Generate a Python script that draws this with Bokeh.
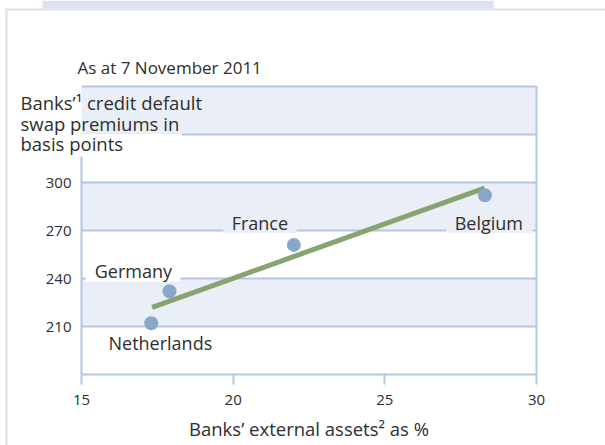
from bokeh.plotting import figure
from bokeh.models import FixedTicker, Label, BoxAnnotation
from bokeh.embed import file_html
from bokeh.resources import INLINE

# ---- data ----
countries = ["Belgium", "France", "Germany", "Netherlands"]
external_assets = [28.3, 22.0, 17.9, 17.3]       # % (x)
cds_premiums = [292, 261, 232, 212]              # basis points (y)
trend_x = [17.33, 28.29]                         # fitted line end points
trend_y = [222, 296.5]
x_ticks = [15, 20, 25, 30]
y_ticks = [180, 210, 240, 270, 300, 330, 360]
y_tick_labels = [210, 240, 270, 300]

# ---- style ----
FONT = "Open Sans"
TXT = "#2e2e2e"
GRID = "#b4c6e2"
BAND = "#eaeff7"
DOT = "#86a8cb"
GREEN = "#86a46f"
FRAME = "#d9e1ee"
STRIP = "#dce3ef"

# page geometry (pixels): chart area box inside a full-canvas frame
W, H = 605, 445
AX_L, AX_R, AX_T, AX_B = 81, 536, 86, 374
x0, x1 = x_ticks[0], x_ticks[-1]
y0, y1 = y_ticks[0], y_ticks[-1]
sx = (AX_R - AX_L) / (x1 - x0)
sy = (AX_B - AX_T) / (y1 - y0)
x_range = (x0 - AX_L / sx, x1 + (W - AX_R) / sx)
y_range = (y0 - (H - AX_B) / sy, y1 + AX_T / sy)

p = figure(width=W, height=H, x_range=x_range, y_range=y_range,
           output_backend="svg", toolbar_location=None, min_border=0)
p.outline_line_color = None
p.background_fill_color = "white"
p.border_fill_color = "white"

# alternating bands
p.quad(left=x0, right=x1, bottom=y_ticks[1::2], top=y_ticks[2::2],
       fill_color=BAND, line_color=None, level="image")

# grid (horizontal lines + right border)
p.ygrid.ticker = FixedTicker(ticks=y_ticks[1:])
p.ygrid.cross_bounds = (x0, x1)
p.ygrid.grid_line_color = GRID
p.ygrid.grid_line_width = 2
p.xgrid.ticker = FixedTicker(ticks=[x1])
p.xgrid.cross_bounds = (y0, y1)
p.xgrid.grid_line_color = GRID
p.xgrid.grid_line_width = 2

# x axis
xa = p.xaxis[0]
xa.fixed_location = y0
xa.bounds = (x0, x1)
xa.ticker = FixedTicker(ticks=x_ticks)
xa.axis_line_color = GRID
xa.axis_line_width = 2
xa.major_tick_line_color = GRID
xa.major_tick_line_width = 2
xa.major_tick_out = 10
xa.major_tick_in = 0
xa.minor_tick_line_color = None
xa.major_label_text_font = FONT
xa.major_label_text_font_size = "15px"
xa.major_label_text_color = TXT
xa.major_label_standoff = 10
xa.axis_label = "Banks’ external assets² as %"
xa.axis_label_text_font = FONT
xa.axis_label_text_font_size = "18.5px"
xa.axis_label_text_font_style = "normal"
xa.axis_label_text_color = TXT
xa.axis_label_standoff = 8

# y axis
ya = p.yaxis[0]
ya.fixed_location = x0
ya.ticker = FixedTicker(ticks=y_tick_labels)
ya.bounds = (y0, 316)
ya.axis_line_color = GRID
ya.axis_line_width = 2
ya.major_tick_out = 0
ya.major_tick_in = 0
ya.major_tick_line_color = None
ya.minor_tick_line_color = None
ya.major_label_text_font = FONT
ya.major_label_text_font_size = "15px"
ya.major_label_text_color = TXT
ya.major_label_standoff = 10

# boxes that interrupt gridlines behind labels
gap_boxes = [(x0, 18.3, 316.0, 330.7, "white"),       # "basis points"
             (19.68, 22.09, 268.4, 280.0, BAND),      # France
             (27.03, 29.87, 268.4, 280.0, BAND),      # Belgium
             (15.13, 18.26, 238.1, 250.6, "white")]   # Germany
for l, r, b, t, col in gap_boxes:
    p.add_layout(BoxAnnotation(left=l, right=r, bottom=b, top=t, fill_color=col,
                               fill_alpha=1, line_color=None, level="underlay"))

# trend line and points
p.line(trend_x, trend_y, line_width=5, line_color=GREEN)
p.scatter(external_assets, cds_premiums, size=14, fill_color=DOT, line_color=None)

# country labels
lab_pos = {"Belgium": (28.43, 275.0), "France": (20.88, 275.0),
           "Germany": (16.71, 245.0), "Netherlands": (17.6, 199.4)}
for c in countries:
    lx, ly = lab_pos[c]
    p.add_layout(Label(x=lx, y=ly, text=c, text_align="center", text_baseline="alphabetic",
                       text_font=FONT, text_font_size="18px", text_color=TXT))

# subtitle and y title (canvas pixel positions)
texts = [("As at 7 November 2011", 77, 67, "17px"),
         ("Banks’¹ credit default", 20, 102, "18.5px"),
         ("swap premiums in", 20, 122.5, "18.5px"),
         ("basis points", 20, 143, "18.5px")]
for txt, tx, ty, fs in texts:
    p.add_layout(Label(x=tx, y=ty, x_units="canvas", y_units="canvas", text=txt,
                       text_align="left", text_baseline="alphabetic",
                       text_font=FONT, text_font_size=fs, text_color=TXT))

# outer frame lines and top strip
for l, r, t, b, col in [(5, W, 8, 10, FRAME), (5, 7, 8, H, FRAME), (42, 493, 0, 8, STRIP)]:
    p.add_layout(BoxAnnotation(left=l, right=r, top=t, bottom=b, left_units="canvas",
                               right_units="canvas", top_units="canvas", bottom_units="canvas",
                               fill_color=col, fill_alpha=1, line_color=None))

open("out.html", "w").write(file_html(p, INLINE))
